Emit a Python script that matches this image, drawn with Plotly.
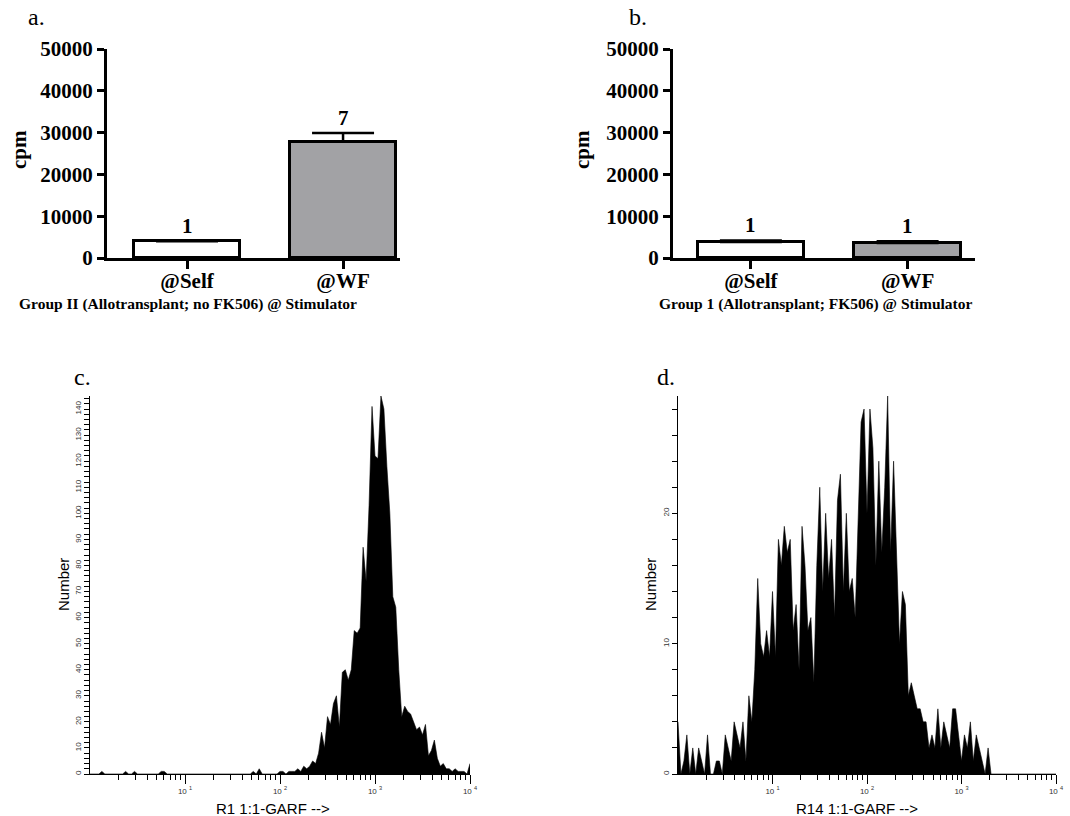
import numpy as np
import plotly.graph_objects as go

# ---------------- data ----------------
categories = ["@Self", "@WF"]
bar_colors = ["#ffffff", "#a2a2a5"]

a_values = [4000, 27800]
a_errors = [0, 2100]
a_n = ["1", "7"]

b_values = [3800, 3600]
b_errors = [400, 400]
b_n = ["1", "1"]

y_ticks_cpm = [0, 10000, 20000, 30000, 40000, 50000]

# flow-cytometry histograms (counts per channel, 128 channels over 4 decades)
c_counts = [0, 0, 0, 0, 1, 0, 0, 0, 0, 0,
            0, 0, 1, 0, 0, 1, 0, 0, 0, 0,
            0, 0, 0, 0, 1, 1, 0, 0, 0, 0,
            0, 0, 0, 0, 0, 0, 0, 0, 0, 0,
            0, 0, 0, 0, 0, 0, 0, 0, 0, 0,
            0, 0, 0, 0, 0, 1, 0, 2, 0, 0,
            0, 0, 0, 0, 1, 1, 0, 1, 1, 1,
            2, 1, 3, 2, 3, 5, 4, 8, 16, 10,
            22, 19, 27, 30, 18, 39, 40, 36, 40, 55,
            54, 56, 87, 74, 103, 141, 122, 121, 145, 140,
            118, 100, 68, 64, 40, 22, 26, 24, 23, 20,
            17, 18, 15, 19, 7, 9, 13, 6, 3, 4,
            2, 2, 1, 2, 1, 1, 1, 0, 4]

d_counts = [4, 0, 1, 3, 0, 2, 0, 2, 1, 0,
            3, 0, 0, 1, 1, 0, 3, 2, 1, 4,
            3, 2, 4, 1, 6, 4, 8, 15, 10, 9,
            11, 9, 14, 9, 18, 16, 19, 17, 18, 11,
            13, 8, 19, 16, 11, 12, 7, 16, 22, 14,
            20, 15, 18, 12, 21, 23, 14, 20, 14, 15,
            12, 19, 27, 28, 20, 28, 25, 16, 24, 17,
            22, 29, 17, 24, 16, 10, 14, 13, 6, 7,
            6, 5, 5, 4, 4, 2, 3, 2, 5, 2,
            4, 3, 2, 5, 5, 3, 1, 3, 2, 4,
            1, 3, 2, 1, 0, 2, 0, 0, 0, 0,
            0, 0, 0, 0, 0, 0, 0, 0, 0, 0,
            0, 0, 0, 0, 0, 0, 0, 0, 0]

decade_ticks = [10, 100, 1000, 10000]
decade_labels = ["10 <sup>1</sup>", "10 <sup>2</sup>", "10 <sup>3</sup>", "10 <sup>4</sup>"]

c_channels = 10 ** (np.arange(len(c_counts)) / 32.0)
d_channels = 10 ** (np.arange(len(d_counts)) / 32.0)
minor_log = [m * 10 ** k for k in range(4) for m in range(2, 10)]

# ---------------- layout helpers ----------------
W, H = 1070, 816
def fx(px):
    return px / W
def fy(py):
    return 1 - py / H

SERIF = "Liberation Serif"
SANS = "Liberation Sans"

fig = go.Figure()

# bar panels
for vals, errs, xa, ya in [(a_values, a_errors, "x", "y"), (b_values, b_errors, "x2", "y2")]:
    fig.add_trace(go.Bar(
        x=categories, y=vals, width=0.68,
        marker=dict(color=bar_colors, line=dict(color="black", width=3)),
        error_y=dict(type="data", array=errs, arrayminus=[0, 0], symmetric=False,
                     color="black", thickness=2.5, width=31),
        xaxis=xa, yaxis=ya, showlegend=False, hoverinfo="skip"))

# histograms
for ch, cnt, xa, ya in [(c_channels, c_counts, "x3", "y3"), (d_channels, d_counts, "x4", "y4")]:
    fig.add_trace(go.Scatter(
        x=ch, y=cnt, mode="lines", fill="tozeroy",
        line=dict(color="black", width=0.6), fillcolor="black",
        xaxis=xa, yaxis=ya, showlegend=False, hoverinfo="skip"))

bar_x_common = dict(showline=True, linecolor="black", linewidth=3, ticks="outside",
                    ticklen=8, tickwidth=3, tickcolor="black", showgrid=False, zeroline=False,
                    automargin=False, ticklabelstandoff=-6,
                    tickfont=dict(family=SERIF, size=21, color="black", weight="bold"))
bar_y_common = dict(showline=True, linecolor="black", linewidth=3, ticks="outside",
                    ticklen=7, tickwidth=3, tickcolor="black", showgrid=False, zeroline=False,
                    automargin=False,
                    range=[0, 50000], tickvals=y_ticks_cpm, tickformat="d",
                    tickfont=dict(family=SERIF, size=21, color="black", weight="bold"))

hist_x_common = dict(type="log", range=[0, 4], showline=True, linecolor="black", linewidth=1,
                     ticks="outside", ticklen=9, tickwidth=1, tickcolor="black",
                     tickvals=decade_ticks, ticktext=decade_labels, automargin=False,
                     tickfont=dict(family=SANS, size=8, color="#333333"),
                     minor=dict(tickmode="array", tickvals=minor_log, ticks="outside",
                                ticklen=5, tickwidth=1, tickcolor="black"),
                     showgrid=False, zeroline=False)
hist_y_common = dict(showline=True, linecolor="black", linewidth=1, ticks="outside",
                     ticklen=5, tickwidth=1, tickcolor="black", tickangle=-90,
                     tick0=0, dtick=10, automargin=False,
                     tickfont=dict(family=SANS, size=8, color="#333333"),
                     minor=dict(dtick=2, tick0=0, ticks="outside", ticklen=5, tickwidth=1,
                                tickcolor="black"),
                     showgrid=False, zeroline=False)

fig.update_layout(
    width=W, height=H, margin=dict(l=0, r=0, t=0, b=0, pad=0, autoexpand=False),
    paper_bgcolor="white", plot_bgcolor="white", bargap=0,
    xaxis=dict(domain=[fx(107), fx(400)], anchor="y", range=[-0.513, 1.365], **bar_x_common),
    yaxis=dict(domain=[fy(258), fy(49)], anchor="x", **bar_y_common),
    xaxis2=dict(domain=[fx(673), fx(975)], anchor="y2", range=[-0.497, 1.43], **bar_x_common),
    yaxis2=dict(domain=[fy(258), fy(49)], anchor="x2", **bar_y_common),
    xaxis3=dict(domain=[fx(90), fx(470)], anchor="y3", **hist_x_common),
    yaxis3=dict(domain=[fy(774), fy(396)], anchor="x3", range=[0, 145], **hist_y_common),
    xaxis4=dict(domain=[fx(678), fx(1056)], anchor="y4", **hist_x_common),
    yaxis4=dict(domain=[fy(774), fy(396)], anchor="x4", range=[0, 29], **hist_y_common),
)

ann = []
# n labels above bars
for vals, errs, ns, xr, yr in [(a_values, a_errors, a_n, "x", "y"), (b_values, b_errors, b_n, "x2", "y2")]:
    for cat, v, e, n in zip(categories, vals, errs, ns):
        ann.append(dict(x=cat, y=v + e, xref=xr, yref=yr, text=n, showarrow=False,
                        yanchor="bottom", yshift=1,
                        font=dict(family=SERIF, size=21, color="black", weight="bold")))

def label(text, px, py, size, family, bold=False, angle=0):
    ann.append(dict(x=fx(px), y=fy(py), xref="paper", yref="paper", text=text,
                    showarrow=False, xanchor="center", yanchor="middle", textangle=angle,
                    font=dict(family=family, size=size, color="black",
                              weight="bold" if bold else "normal")))

# panel letters
label("a.", 36, 17, 24, SERIF)
label("b.", 638, 17, 24, SERIF)
label("c.", 82, 377, 24, SERIF)
label("d.", 666, 377, 24, SERIF)
# axis titles (bar panels)
label("cpm", 19, 150, 21, SERIF, bold=True, angle=-90)
label("cpm", 582, 150, 21, SERIF, bold=True, angle=-90)
label("Group II (Allotransplant; no FK506) @ Stimulator", 188, 304, 15.5, SERIF, bold=True)
label("Group 1 (Allotransplant; FK506) @ Stimulator", 815, 304, 15.5, SERIF, bold=True)
# axis titles (histograms)
label("Number", 63, 585, 15, SANS, angle=-90)
label("Number", 650, 585, 15, SANS, angle=-90)
label("R1 1:1-GARF -->", 273, 808, 15, SANS)
label("R14 1:1-GARF -->", 857, 808, 15, SANS)

fig.update_layout(annotations=ann)
fig.write_html("out.html", config={"responsive": False, "displayModeBar": False},
               post_script="document.body.style.margin='0';document.body.style.overflow='hidden';")
